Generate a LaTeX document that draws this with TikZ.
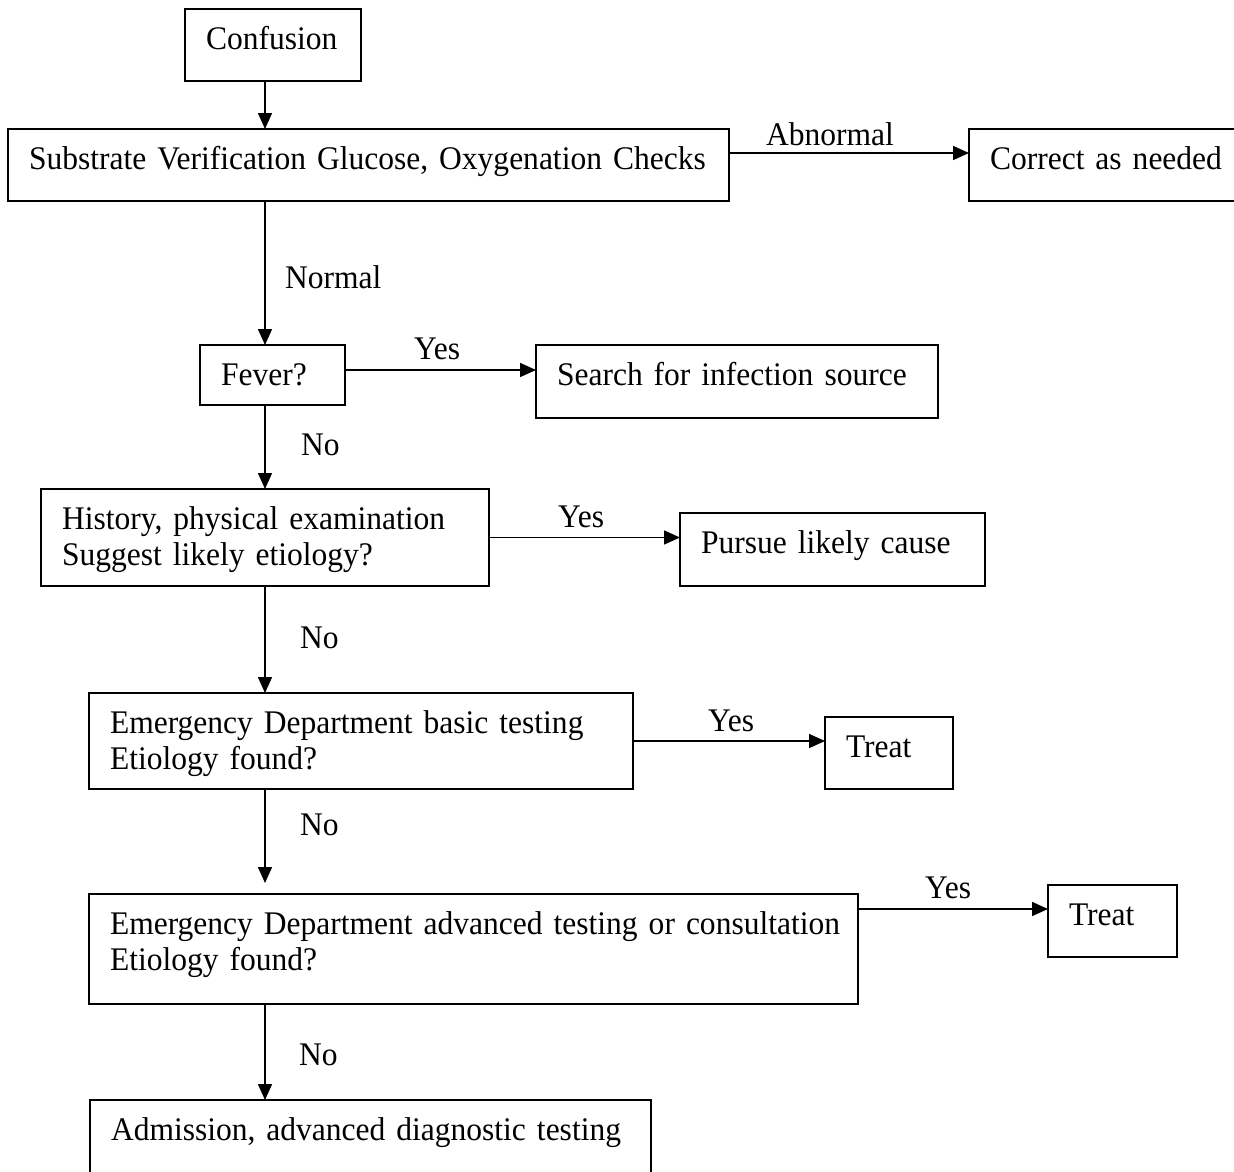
\documentclass[tikz,border=0pt]{standalone}
\usepackage{fontspec}
\setmainfont{Liberation Serif}[FakeStretch=0.955]
\usetikzlibrary{arrows.meta,calc}
\begin{document}
\begin{tikzpicture}[x=1pt,y=-1pt,
  box/.style={draw, line width=1.8pt, anchor=north west, inner xsep=21pt, inner ysep=0pt,
    outer sep=0pt, align=left, font=\fontsize{33}{36}\selectfont, text height=40pt},
  arr/.style={line width=1.6pt, -{Triangle[length=16pt,width=14pt]}},
  lbl/.style={anchor=base west, inner sep=0pt, font=\fontsize{33}{36}\selectfont}]
\useasboundingbox (0,0) rectangle (1234,1172);
% boxes
\node[box, text width=134pt, text depth=32pt] (conf) at (185,9) {\mbox{Confusion}};
\node[box, text width=679pt, text depth=32pt] (subs) at (8,129) {\mbox{Substrate Verification Glucose, Oxygenation Checks}};
\node[box, text width=233pt, text depth=32pt] (corr) at (969,129) {\mbox{Correct as needed}};
\node[box, text width=103pt, text depth=20pt] (fever) at (200,345) {\mbox{Fever?}};
\node[box, text width=360pt, text depth=33pt] (search) at (536,345) {\mbox{Search for infection source}};
\node[box, text width=406pt, text depth=57pt] (hist) at (41,489) {\mbox{History, physical examination}\\\mbox{Suggest likely etiology?}};
\node[box, text width=263pt, text depth=33pt] (pursue) at (680,513) {\mbox{Pursue likely cause}};
\node[box, text width=502pt, text depth=56pt] (edb) at (89,693) {\mbox{Emergency Department basic testing}\\\mbox{Etiology found?}};
\node[box, text width=86pt, text depth=32pt] (treata) at (825,717) {\mbox{Treat}};
\node[box, text width=727pt, text depth=70pt] (eda) at (89,894) {\mbox{Emergency Department advanced testing or consultation}\\\mbox{Etiology found?}};
\node[box, text width=87pt, text depth=32pt] (treatb) at (1048,885) {\mbox{Treat}};
\node[box, text width=519pt, text depth=40pt] (adm) at (90,1100) {\mbox{Admission, advanced diagnostic testing}};
% spine
\coordinate (spine) at (265,0);
% vertical connectors
\draw[arr] (conf.south -| spine) -- (subs.north -| spine);
\draw[arr] (subs.south -| spine) -- (fever.north -| spine);
\draw[arr] (fever.south -| spine) -- (hist.north -| spine);
\draw[arr] (hist.south -| spine) -- (edb.north -| spine);
\draw[arr, shorten >=11pt] (edb.south -| spine) -- (eda.north -| spine);
\draw[arr] (eda.south -| spine) -- (adm.north -| spine);
% horizontal connectors
\draw[arr] ([yshift=12pt]subs.east) coordinate (a1) -- (a1 -| corr.west);
\draw[arr] ([yshift=5pt]fever.east) coordinate (a2) -- (a2 -| search.west);
\draw[arr] (hist.east) -- (hist.east -| pursue.west);
\draw[arr] (edb.east) -- (edb.east -| treata.west);
\draw[arr] ([yshift=40pt]eda.east) coordinate (a3) -- (a3 -| treatb.west);
% labels
\node[lbl] (labn) at (766,145) {Abnormal};
\node[lbl] (lnorm) at (285,288) {Normal};
\node[lbl] (ly1) at (414,359) {Yes};
\node[lbl] (ln1) at (301,455) {No};
\node[lbl] (ly2) at (558,527) {Yes};
\node[lbl] (ln2) at (300,648) {No};
\node[lbl] (ly3) at (708,731) {Yes};
\node[lbl] (ln3) at (300,835) {No};
\node[lbl] (ly4) at (925,898) {Yes};
\node[lbl] (ln4) at (299,1065) {No};
\end{tikzpicture}
\end{document}
